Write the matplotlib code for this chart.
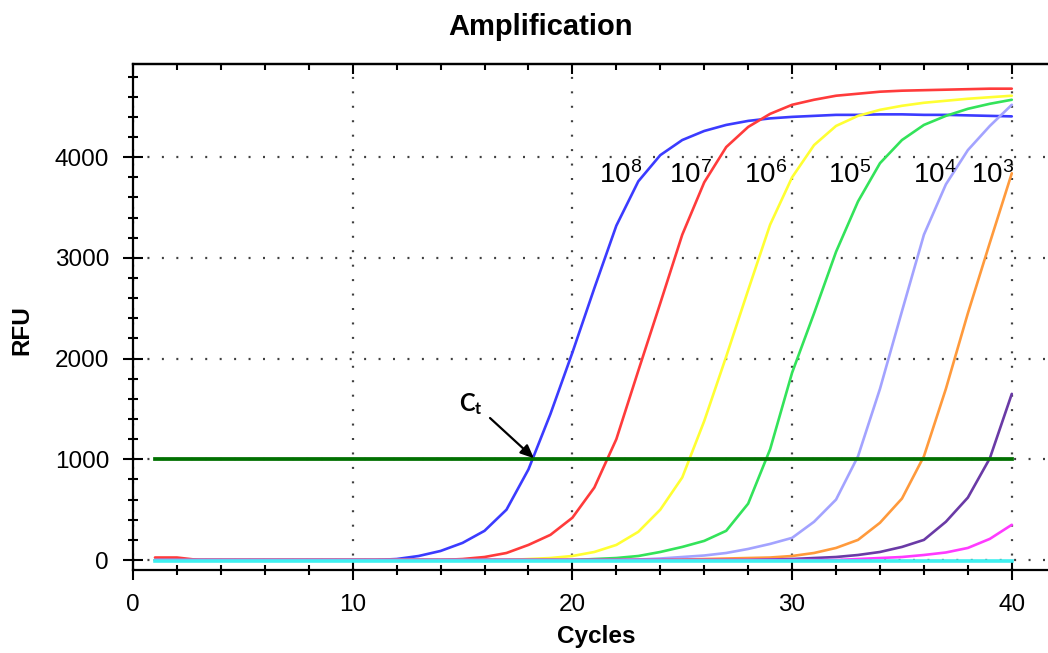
import matplotlib
matplotlib.use("Agg")
import matplotlib.pyplot as plt
from matplotlib.ticker import MultipleLocator

plt.rcParams['font.family'] = ['Liberation Sans', 'DejaVu Sans']
plt.rcParams['mathtext.fontset'] = 'custom'
plt.rcParams['mathtext.rm'] = 'Lato'
plt.rcParams['mathtext.bf'] = 'Lato:bold'

cycles = list(range(1, 41))

blue_1e8 = [0, 0, 0, 0, 0, 0, 0, 0, 0, 0, 0, 10, 40, 90, 170, 290, 500, 900, 1450, 2060,
            2700, 3320, 3760, 4020, 4170, 4260, 4320, 4360, 4385, 4400,
            4410, 4420, 4420, 4425, 4425, 4420, 4420, 4415, 4410, 4405]
red_1e7 = [25, 25, 0, 0, 0, 0, 0, 0, 0, 0, 0, 0, 0, 0, 10, 30, 70, 150, 250, 420,
           720, 1200, 1880, 2550, 3230, 3750, 4100, 4300, 4430, 4520,
           4570, 4610, 4630, 4650, 4660, 4665, 4670, 4675, 4680, 4680]
yellow_1e6 = [0, 0, 0, 0, 0, 0, 0, 0, 0, 0, 0, 0, 0, 0, 0, 0, 0, 10, 20, 40,
              80, 150, 280, 500, 820, 1380, 2020, 2680, 3330, 3800,
              4120, 4310, 4410, 4470, 4510, 4540, 4560, 4580, 4595, 4610]
green_1e5 = [0, 0, 0, 0, 0, 0, 0, 0, 0, 0, 0, 0, 0, 0, 0, 0, 0, 0, 0, 0,
             10, 20, 40, 80, 130, 190, 290, 560, 1100, 1860,
             2450, 3060, 3560, 3940, 4170, 4320, 4410, 4480, 4530, 4570]
lavender_1e4 = [0, 0, 0, 0, 0, 0, 0, 0, 0, 0, 0, 0, 0, 0, 0, 0, 0, 0, 0, 0,
                0, 0, 5, 15, 30, 45, 70, 110, 160, 220,
                380, 600, 1030, 1700, 2470, 3230, 3730, 4070, 4310, 4520]
orange_1e3 = [0, 0, 0, 0, 0, 0, 0, 0, 0, 0, 0, 0, 0, 0, 0, 0, 0, 0, 0, 0,
              0, 0, 0, 0, 5, 10, 15, 20, 25, 40,
              70, 120, 200, 370, 610, 1030, 1700, 2450, 3150, 3840]
purple_s = [0, 0, 0, 0, 0, 0, 0, 0, 0, 0, 0, 0, 0, 0, 0, 0, 0, 0, 0, 0,
            0, 0, 0, 0, 0, 0, 0, 0, 5, 10,
            20, 30, 50, 80, 130, 200, 380, 620, 1010, 1650]
magenta_s = [0, 0, 0, 0, 0, 0, 0, 0, 0, 0, 0, 0, 0, 0, 0, 0, 0, 0, 0, 0,
             0, 0, 0, 0, 0, 0, 0, 0, 0, 0,
             0, 0, 10, 20, 30, 50, 75, 120, 210, 350]
cyan_ntc = [-10] * 40

threshold = 1000
series_labels = ["10^8", "10^7", "10^6", "10^5", "10^4", "10^3"]
label_x = [21.2, 24.4, 27.8, 31.65, 35.5, 38.15]
label_y = [3745, 3745, 3745, 3745, 3745, 3745]

series = [
    (blue_1e8, '#3b3bff'),
    (red_1e7, '#ff3b3b'),
    (yellow_1e6, '#ffff33'),
    (green_1e5, '#33e35a'),
    (lavender_1e4, '#a3a3ff'),
    (orange_1e3, '#ff9a3c'),
    (purple_s, '#6a3aa6'),
    (magenta_s, '#ff3bff'),
]

W, H = 1048, 653
fig = plt.figure(figsize=(W / 100, H / 100), dpi=100)
ax = fig.add_axes([133 / W, 83 / H, (W - 133) / W, (570 - 64) / H])

for vals, col in series:
    ax.plot(cycles, vals, color=col, lw=1.9, solid_joinstyle='round',
            solid_capstyle='round', zorder=3)
ax.plot(cycles, cyan_ntc, color='#3ff0f0', lw=2.6, zorder=3.5)

ax.plot([cycles[0], cycles[-1]], [threshold, threshold], color='#007000', lw=2.7, zorder=4)

ax.set_xlim(0, (W - 133) / 21.97)
ax.set_ylim(-99, 4925)

ax.xaxis.set_major_locator(MultipleLocator(10))
ax.xaxis.set_minor_locator(MultipleLocator(2))
ax.yaxis.set_major_locator(MultipleLocator(1000))
ax.yaxis.set_minor_locator(MultipleLocator(200))

for s in ['left', 'bottom', 'top']:
    ax.spines[s].set_linewidth(1.6)
ax.spines['right'].set_visible(False)

ax.tick_params(which='major', direction='inout', length=14.4, width=1.5, pad=10.0,
               labelsize=17.5, top=False, right=False)
ax.tick_params(which='minor', direction='inout', length=7.2, width=1.5, top=False, right=False)

sec = ax.secondary_xaxis('top')
sec.xaxis.set_major_locator(MultipleLocator(10))
sec.xaxis.set_minor_locator(MultipleLocator(2))
sec.tick_params(which='major', direction='in', length=7.5, width=1.5, labeltop=False)
sec.tick_params(which='minor', direction='in', length=4.5, width=1.5)
sec.spines['top'].set_linewidth(1.6)

ax.grid(True, which='major', color='#404040', linestyle=(0, (0.9, 5.6)), lw=1.6, zorder=1)

for lab, lx, ly in zip(series_labels, label_x, label_y):
    ax.text(lx, ly, r"$\mathregular{" + lab + "}$", fontsize=20, ha='left', va='baseline',
            color='black', zorder=5)

ax.annotate("", xy=(18.25, 1010), xytext=(16.25, 1410),
            arrowprops=dict(arrowstyle='-|>,head_length=0.8,head_width=0.35',
                            color='black', lw=1.6, shrinkA=0, shrinkB=0),
            zorder=6)
ax.text(14.85, 1480, r"$\mathbf{C_t}$", fontsize=17, ha='left', va='baseline', zorder=6)

fig.text(541 / W, 1 - 27 / H, "Amplification", fontsize=21, fontweight='bold',
         ha='center', va='center')
fig.text(596 / W, 1 - 637 / H, "Cycles", fontsize=17.5, fontweight='bold',
         ha='center', va='center')
fig.text(22 / W, 1 - 330 / H, "RFU", fontsize=17.5, fontweight='bold',
         ha='center', va='center', rotation=90)

fig.savefig("out.png", dpi=100)
